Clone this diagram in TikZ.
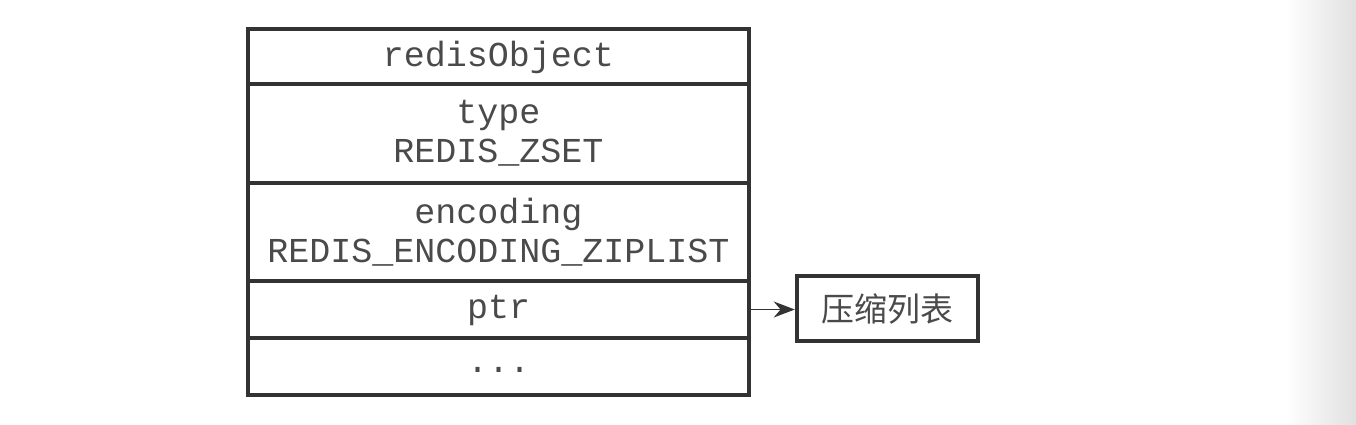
\documentclass[tikz,border=0pt]{standalone}
\usepackage{fontspec}
\setmonofont{Liberation Mono}
\newfontfamily\cjk{Noto Sans CJK SC}
\usetikzlibrary{arrows.meta}
\definecolor{edge}{HTML}{333333}
\definecolor{ink}{HTML}{4A4A4A}
\newcommand{\lowered}[2]{\raisebox{-#1}[0pt][0pt]{#2}}
\tikzset{
  x=1pt,y=-1pt,
  row/.style={draw=edge,line width=4.5pt,minimum width=501pt,inner sep=0pt,
    align=center,text=ink,font=\ttfamily\fontsize{35}{39}\selectfont},
  target/.style={draw=edge,line width=4.5pt,minimum width=181pt,minimum height=65pt,
    inner sep=0pt,text=ink,font=\cjk\fontsize{33}{36}\selectfont},
  link/.style={draw=edge,line width=1.5pt,-{Stealth[length=21pt,width=16pt]}}
}
\begin{document}
\begin{tikzpicture}
\useasboundingbox (0,0) rectangle (1356,424);
\fill[white] (0,0) rectangle (1356,424);
\shade[left color=white,right color=black!12] (1285,0) rectangle (1356,424);
\node[row,minimum height=55pt] (obj) at (498.5,56.5) {\lowered{10pt}{redisObject}};
\node[row,minimum height=99pt] (type) at (498.5,133.5) {type\\REDIS\_ZSET};
\node[row,minimum height=98pt] (enc) at (498.5,232) {encoding\\REDIS\_ENCODING\_ZIPLIST};
\node[row,minimum height=57pt] (ptr) at (498.5,309.5) {\lowered{8.5pt}{ptr}};
\node[row,minimum height=57pt] (more) at (498.5,366.5) {\lowered{6pt}{...}};
\node[target] (zl) at (887.5,308.5) {压缩列表};
\draw[link] (ptr.east) -- (ptr.east -| zl.west);
\end{tikzpicture}
\end{document}
